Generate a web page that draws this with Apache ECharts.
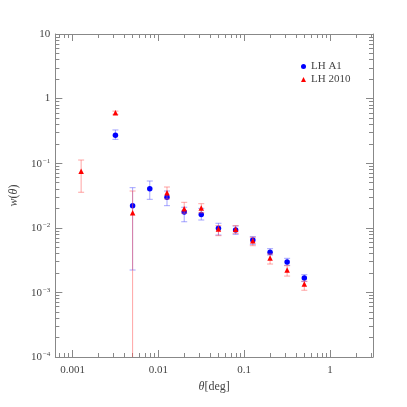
<!DOCTYPE html>
<html>
<head>
<meta charset="utf-8">
<script src="https://cdn.jsdelivr.net/npm/echarts@6/dist/echarts.min.js"></script>
<style>html,body{margin:0;padding:0;background:#fff}#c{width:407px;height:407px}</style>
</head>
<body>
<div id="c"></div>
<script>
// angular bins (deg)
const thetaA1 = [0.00316, 0.00501, 0.00794, 0.0126, 0.02, 0.0316, 0.0501, 0.0794, 0.126, 0.2, 0.316, 0.501];
const wA1     = [0.270, 0.0220, 0.0403, 0.0297, 0.0176, 0.0160, 0.00982, 0.00924, 0.00647, 0.00418, 0.00296, 0.00167];
const wA1Lo   = [0.234, 0.00222, 0.0276, 0.0220, 0.0124, 0.0132, 0.00774, 0.00793, 0.00555, 0.00379, 0.00263, 0.00147];
const wA1Hi   = [0.327, 0.0418, 0.0530, 0.0371, 0.0208, 0.0200, 0.01175, 0.01067, 0.00730, 0.00475, 0.00337, 0.00188];

const theta2010 = [0.00126, 0.00316, 0.00501, 0.0126, 0.02, 0.0316, 0.0501, 0.0794, 0.126, 0.2, 0.316, 0.501];
const w2010     = [0.0750, 0.605, 0.0171, 0.0349, 0.0198, 0.0203, 0.00957, 0.00948, 0.00631, 0.00341, 0.00222, 0.00135];
const w2010Lo   = [0.0355, 0.570, 0.00001, 0.0279, 0.0168, 0.0171, 0.00755, 0.00822, 0.00528, 0.00275, 0.00179, 0.00108];
const w2010Hi   = [0.112, 0.640, 0.0371, 0.0428, 0.0248, 0.0236, 0.0108, 0.0108, 0.00713, 0.00393, 0.00259, 0.00149];

const xMin = 0.000631, xMax = 3.162;
const yMin = 1e-4, yMax = 10;
const xTickLabels = {'-3': '0.001', '-2': '0.01', '-1': '0.1', '0': '1'};
const yTickLabels = {'1': '{b|10}', '0': '{b|1}', '-1': '{b|10}{s|−1}', '-2': '{b|10}{s|−2}', '-3': '{b|10}{s|−3}', '-4': '{b|10}{s|−4}'};

const FONT = 'Liberation Serif';
const AXC = '#888';

function pts(xs, ys) { return xs.map((x, i) => [x, ys[i]]); }
function errs(xs, lo, hi) { return xs.map((x, i) => [x, lo[i], hi[i]]); }

function errRender(color) {
  return function (params, api) {
    const x = api.value(0);
    const a = api.coord([x, api.value(1)]);
    const b = api.coord([x, api.value(2)]);
    const w = 3;
    const st = { stroke: color, lineWidth: 1 };
    return {
      type: 'group',
      children: [
        { type: 'line', shape: { x1: a[0], y1: a[1], x2: b[0], y2: b[1] }, style: st },
        { type: 'line', shape: { x1: a[0] - w, y1: a[1], x2: a[0] + w, y2: a[1] }, style: st },
        { type: 'line', shape: { x1: b[0] - w, y1: b[1], x2: b[0] + w, y2: b[1] }, style: st }
      ]
    };
  };
}

function xAx(pos, show) {
  return {
    type: 'log', logBase: 10, min: xMin, max: xMax, position: pos,
    axisLine: { show: true, lineStyle: { color: AXC, width: 1 } },
    axisTick: { show: true, inside: true, length: 7, lineStyle: { color: AXC } },
    minorTick: { show: true, splitNumber: 9, length: 4, lineStyle: { color: AXC } },
    splitLine: { show: false },
    axisLabel: {
      show: show, margin: 8, color: '#444', fontFamily: FONT, fontSize: 11,
      formatter: function (v) {
        const e = Math.round(Math.log10(v));
        if (Math.abs(Math.log10(v) - e) > 1e-6) return '';
        return xTickLabels[String(e)] || '';
      }
    },
    name: show ? '{i|θ}{n|[deg]}' : '',
    nameLocation: 'middle', nameGap: 21,
    nameTextStyle: { rich: { i: { fontFamily: FONT, fontStyle: 'italic', fontSize: 12, color: '#444' }, n: { fontFamily: FONT, fontSize: 12, color: '#444' } } }
  };
}
function yAx(pos, show) {
  return {
    type: 'log', logBase: 10, min: yMin, max: yMax, position: pos,
    axisLine: { show: true, lineStyle: { color: AXC, width: 1 } },
    axisTick: { show: true, inside: true, length: 7, lineStyle: { color: AXC } },
    minorTick: { show: true, splitNumber: 9, length: 4, lineStyle: { color: AXC } },
    splitLine: { show: false },
    axisLabel: {
      show: show, margin: 5,
      formatter: function (v) {
        const e = Math.round(Math.log10(v));
        if (Math.abs(Math.log10(v) - e) > 1e-6) return '';
        return yTickLabels[String(e)] || '';
      },
      rich: {
        b: { fontFamily: FONT, fontSize: 11, color: '#444', verticalAlign: 'bottom' },
        s: { fontFamily: FONT, fontSize: 7, color: '#444', verticalAlign: 'bottom', padding: [0, 0, 5, 1] }
      }
    },
    name: show ? '{i|w}{n|(}{i|θ}{n|)}' : '',
    nameLocation: 'middle', nameGap: 34, nameRotate: 90,
    nameTextStyle: { rich: { i: { fontFamily: FONT, fontStyle: 'italic', fontSize: 12, color: '#444' }, n: { fontFamily: FONT, fontSize: 12, color: '#444' } } }
  };
}

const chart = echarts.init(document.getElementById('c'), null, { renderer: 'canvas' });
chart.setOption({
  animation: false,
  backgroundColor: '#fff',
  grid: { left: 50, right: 34, top: 34, bottom: 50, containLabel: false },
  xAxis: [xAx('bottom', true), xAx('top', false)],
  yAxis: [yAx('left', true), yAx('right', false)],
  legend: {
    data: [{ name: 'LH A1', icon: 'circle' }, { name: 'LH 2010', icon: 'triangle' }],
    orient: 'vertical', left: 301, top: 60, itemWidth: 5, itemHeight: 5, itemGap: 0, padding: 0,
    textStyle: { fontFamily: FONT, fontSize: 11, color: '#444', lineHeight: 13 }
  },
  series: [
    { type: 'custom', name: 'errA1', xAxisIndex: 0, yAxisIndex: 0, clip: true, renderItem: errRender('rgba(90,90,255,0.55)'), data: errs(thetaA1, wA1Lo, wA1Hi), z: 2 },
    { type: 'scatter', name: 'LH A1', xAxisIndex: 0, yAxisIndex: 0, symbol: 'circle', symbolSize: 5.5, itemStyle: { color: '#0000ff', opacity: 1 }, data: pts(thetaA1, wA1), z: 3 },
    { type: 'custom', name: 'err2010', xAxisIndex: 0, yAxisIndex: 0, clip: true, renderItem: errRender('rgba(255,90,90,0.55)'), data: errs(theta2010, w2010Lo, w2010Hi), z: 4 },
    { type: 'scatter', name: 'LH 2010', xAxisIndex: 0, yAxisIndex: 0, symbol: 'triangle', symbolSize: 5.5, itemStyle: { color: '#ff0000', opacity: 1 }, data: pts(theta2010, w2010), z: 5 }
  ]
});
</script>
</body>
</html>
